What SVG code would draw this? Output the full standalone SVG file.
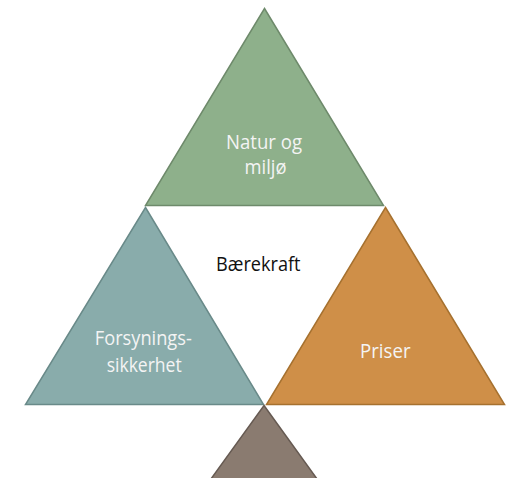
<svg xmlns="http://www.w3.org/2000/svg" width="509" height="478" viewBox="0 0 509 478">
<style>
.lbl{font-family:"Open Sans","Noto Sans","Liberation Sans",sans-serif;font-size:20px;fill:#F4F4F4;text-anchor:middle}
.dark{fill:#111111}
.tri{stroke-width:1.5;stroke-linejoin:miter}
</style>
<rect width="509" height="478" fill="#FFFFFF"/>
<g id="connectors"></g>
<g id="natur">
<polygon class="tri" points="264.5,8.5 383.5,205.5 145.5,205.5" fill="#8EB08B" stroke="#6E8A6B"/>
<text class="lbl" x="264" y="148.5" textLength="76" lengthAdjust="spacingAndGlyphs">Natur og</text>
<text class="lbl" x="265.5" y="173.5" textLength="42" lengthAdjust="spacingAndGlyphs">miljø</text>
</g>
<g id="forsyning">
<polygon class="tri" points="145.5,207.5 263.5,404.5 25.5,404.5" fill="#89ACAB" stroke="#698A89"/>
<text class="lbl" x="143.3" y="345" textLength="97" lengthAdjust="spacingAndGlyphs">Forsynings-</text>
<text class="lbl" x="144.2" y="372.3" textLength="75" lengthAdjust="spacingAndGlyphs">sikkerhet</text>
</g>
<g id="priser">
<polygon class="tri" points="385.5,207.5 504.5,404.5 266.5,404.5" fill="#CF8F48" stroke="#A6712F"/>
<text class="lbl" x="385.3" y="357.7" textLength="50.5" lengthAdjust="spacingAndGlyphs">Priser</text>
</g>
<g id="bottom">
<polygon class="tri" points="264,405.5 325,490 203,490" fill="#8A7B70" stroke="#665A52"/>
</g>
<g id="baerekraft">
<text class="lbl dark" x="258.3" y="270.7" textLength="84.5" lengthAdjust="spacingAndGlyphs">Bærekraft</text>
</g>
</svg>
